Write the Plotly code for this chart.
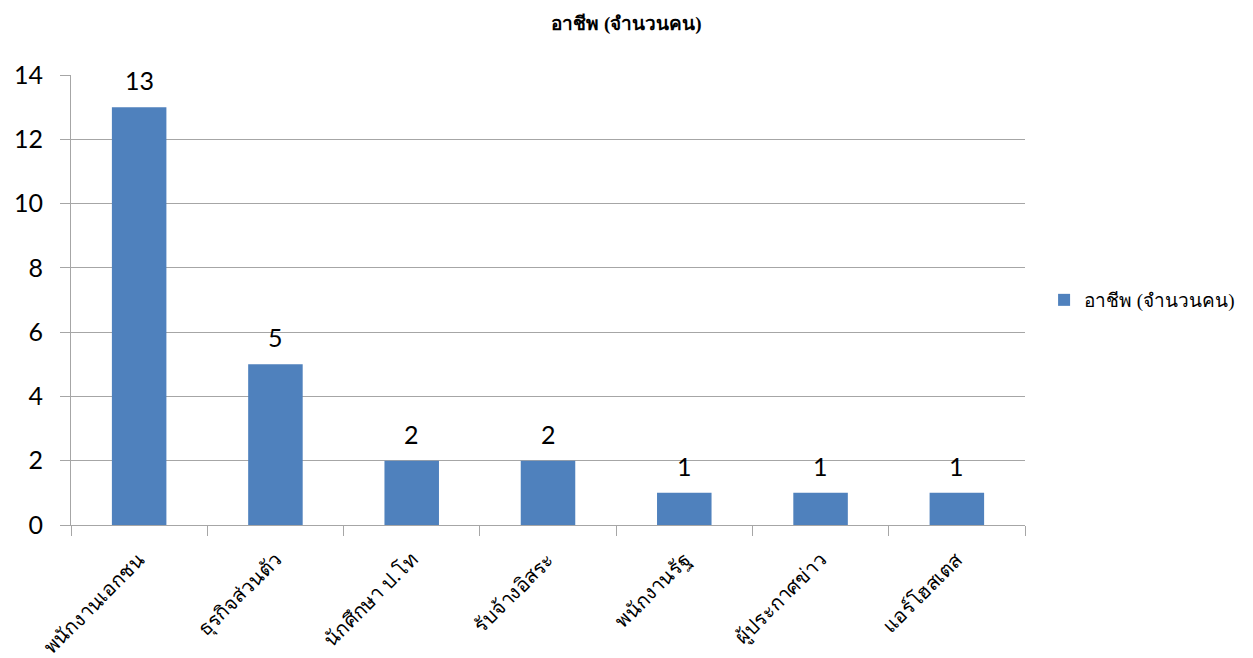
import plotly.graph_objects as go

categories = ["พนักงานเอกชน", "ธุรกิจส่วนตัว", "นักศึกษา ป.โท", "รับจ้างอิสระ", "พนักงานรัฐ", "ผู้ประกาศข่าว", "แอร์โฮสเตส"]
values = [13, 5, 2, 2, 1, 1, 1]
series_name = "อาชีพ (จำนวนคน)"
y_ticks = [0, 2, 4, 6, 8, 10, 12, 14]

fig = go.Figure()
fig.add_trace(go.Bar(
    x=categories, y=values, name=series_name,
    marker=dict(color="#4F81BD", line=dict(width=0)),
    cliponaxis=False,
))
for c, v in zip(categories, values):
    fig.add_annotation(x=c, y=v, text=str(v), showarrow=False, yanchor="middle",
                       yshift=27, font=dict(family="Lato, Carlito, sans-serif", size=25, color="black"))
fig.update_layout(
    width=1253, height=658,
    margin=dict(l=71, r=228, t=75, b=133, autoexpand=False),
    paper_bgcolor="white", plot_bgcolor="white",
    bargap=0.6,
    showlegend=True,
    title=dict(text="<b>" + series_name + "</b>", x=0.5, xref="container", xanchor="center",
               y=0.965, yref="container", yanchor="middle",
               font=dict(family="Liberation Serif, serif", size=19, color="black")),
    legend=dict(x=1.02, xanchor="left", y=0.5, yanchor="middle",
                font=dict(family="Liberation Serif, serif", size=19, color="black")),
)
fig.update_yaxes(
    range=[0, 14], tickvals=y_ticks, showgrid=True, gridcolor="#A6A6A6", gridwidth=1,
    showline=True, linecolor="#A6A6A6", ticks="outside", ticklen=10, tickcolor="#A6A6A6",
    ticklabelstandoff=12, automargin=False,
    tickfont=dict(family="Lato, Carlito, sans-serif", size=25, color="black"),
    zeroline=False,
)
fig.update_xaxes(
    showline=True, linecolor="#A6A6A6", ticks="outside", ticklen=10, tickcolor="#A6A6A6",
    tickson="boundaries", tickangle=-45, ticklabelstandoff=14, automargin=False,
    tickfont=dict(family="Noto Sans, sans-serif", size=20, color="black"),
)
fig.write_html("out.html")
